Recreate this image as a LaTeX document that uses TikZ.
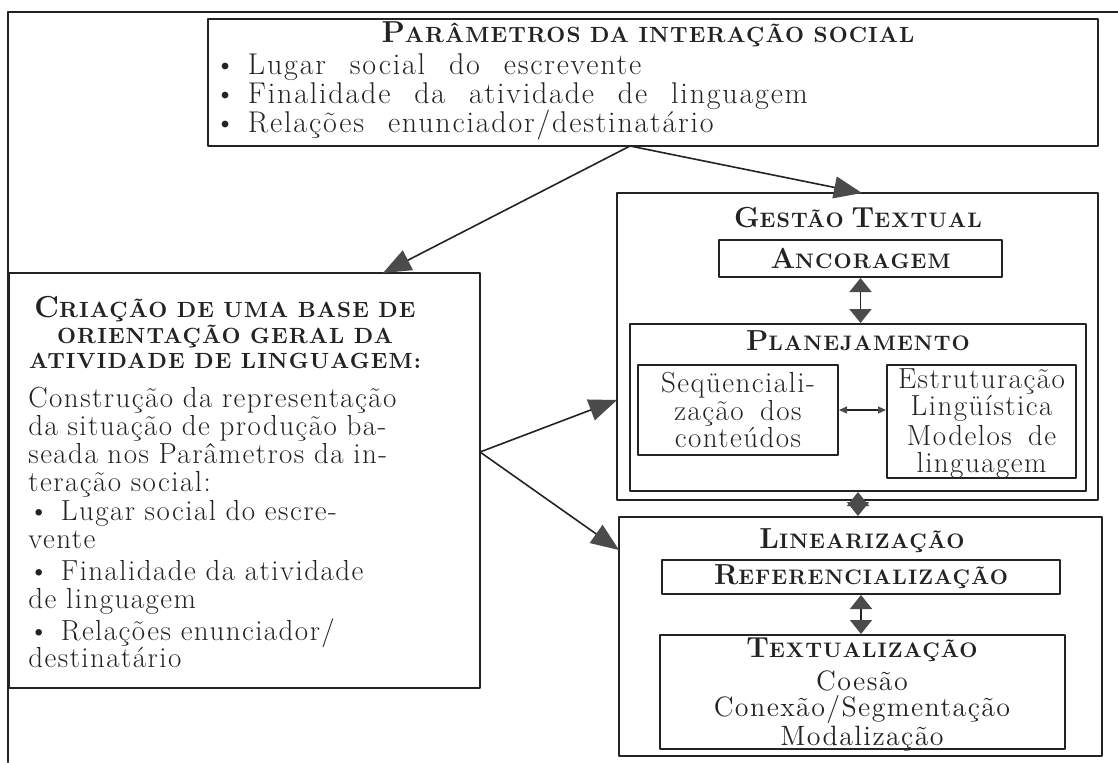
\documentclass[tikz,border=0pt]{standalone}
\usepackage{fontspec}
\setmainfont{Latin Modern Roman}[LetterSpace=5]
\newfontfamily\bodyfont{Latin Modern Roman}[LetterSpace=5,WordSpace=1.6]
\newfontfamily\widefont{Latin Modern Roman}[LetterSpace=6,WordSpace=2.2]
\usetikzlibrary{arrows.meta,fit}

% bold heading with a large initial and reduced capitals
\newcommand{\hsm}[2][10.5]{{\bfseries\fontsize{#1}{12.75}\selectfont #2}}
\newcommand{\hsc}[3][10.5]{{\bfseries\fontsize{\fpeval{1.38*#1}}{12.75}\selectfont #2\hsm[#1]{#3}}}
\newcommand{\bul}{\textbullet\hspace{0.4em}}

\begin{document}
\begin{tikzpicture}[
    >=Latex,
    line cap=round,
    line join=round,
    x=0.5pt,
    y=-0.5pt
]

% =========================================================
% Colors
% =========================================================
\definecolor{inkline}{RGB}{35,35,35}
\definecolor{inkhead}{RGB}{75,75,75}

% =========================================================
% Styles
% =========================================================
\tikzset{
    boxframe/.style={draw=inkline,line width=1pt,inner sep=0pt},
    bodytext/.style={font=\bodyfont\fontsize{14.5}{13.9}\selectfont,inner sep=0pt,text=inkline},
    paramtext/.style={font=\widefont\fontsize{15}{13.25}\selectfont,inner sep=0pt,text=inkline},
    headtext/.style={font=\fontsize{10.5}{12.75}\selectfont,inner sep=0pt,align=center,text=inkline},
    flowarrow/.style={draw=inkline,line width=0.8pt,
        -{Triangle[length=14pt,width=11pt,color=inkhead]}},
    linkarrow/.style={draw=inkline,line width=0.9pt,
        {Triangle[length=7pt,width=11pt,color=inkhead]}-{Triangle[length=7pt,width=11pt,color=inkhead]}},
    minilink/.style={draw=inkline,line width=0.6pt,
        {Triangle[length=4pt,width=3.5pt,color=inkhead]}-{Triangle[length=4pt,width=3.5pt,color=inkhead]}}
}

\useasboundingbox (0,0) rectangle (1118,762);

% outer frame
\draw[inkline,line width=1pt] (8,762) -- (8,12) -- (1118,12);

% =========================================================
% Top: social interaction parameters
% =========================================================
\node[boxframe,fit={(208,19) (1098,146)}] (params) {};
\node[headtext] (paramstitle) at (648,34) {\hsc[11]{P}{ARÂMETROS DA INTERAÇÃO SOCIAL}};
\node[paramtext,anchor=west] (paramsa) at (214,67) {\bul Lugar social do escrevente};
\node[paramtext,anchor=west] (paramsb) at (214,96) {\bul Finalidade da atividade de linguagem};
\node[paramtext,anchor=west] (paramsc) at (214,125) {\bul Relações enunciador/destinatário};

% =========================================================
% Left: general orientation base
% =========================================================
\node[boxframe,fit={(9,273) (480,688)}] (base) {};
\node[headtext] (basetitle) at (225,333)
    {\hsc[11]{C}{RIAÇÃO DE UMA BASE DE}\\ \hsm[11]{ORIENTAÇÃO GERAL DA}\\ \hsm[11]{ATIVIDADE DE LINGUAGEM:}};
\node[bodytext,text width=219.5pt,align=left,anchor=north west] (basebody) at (28,387)
    {\makebox[\linewidth][s]{Construção da representação}\\
     \makebox[\linewidth][s]{da situação de produção ba-}\\
     \makebox[\linewidth][s]{seada nos Parâmetros da in-}\\
     teração social:\\[1pt]
     \bul Lugar social do escre-\\
     vente\\[2pt]
     \bul Finalidade da atividade\\
     de linguagem\\[2pt]
     \bul Relações enunciador/\\
     destinatário};

% =========================================================
% Right: textual management
% =========================================================
\node[boxframe,fit={(617,193) (1098,500)}] (gestao) {};
\node[headtext] (gestaotitle) at (858,218) {\hsc{G}{ESTÃO} \hsc{T}{EXTUAL}};
\node[boxframe,fit={(719,240) (1002,277)}] (anc) {};
\node[headtext] at (anc.center) {\hsc{A}{NCORAGEM}};

\node[boxframe,fit={(630,324) (1086,491)}] (plan) {};
\node[headtext] (plantitle) at (858,341) {\hsc{P}{LANEJAMENTO}};
\node[boxframe,fit={(638,365) (838,455)}] (seq) {};
\node[bodytext,align=center] at (seq.center) {Seqüenciali-\\zação dos\\conteúdos};
\node[boxframe,fit={(887,365) (1076,478)}] (estr) {};
\node[bodytext,font=\bodyfont\fontsize{14.5}{13.4}\selectfont,align=center] at ([yshift=-1pt]estr.center)
    {Estruturação\\Lingüística\\[1.5pt]Modelos de\\linguagem};

% =========================================================
% Right: linearisation
% =========================================================
\node[boxframe,fit={(619,517) (1102,756)}] (lin) {};
\node[headtext] (lintitle) at (862,541) {\hsc{L}{INEARIZAÇÃO}};
\node[boxframe,fit={(662,560) (1060,594)}] (ref) {};
\node[headtext] at (ref.center) {\hsc{R}{EFERENCIALIZAÇÃO}};
\node[boxframe,fit={(660,635) (1065,749)}] (textu) {};
\node[headtext] (textutitle) at (862,650) {\hsc{T}{EXTUALIZAÇÃO}};
\node[bodytext,font=\bodyfont\fontsize{14}{12.9}\selectfont,align=center] (textubody) at (862,711)
    {Coesão\\Conexão/Segmentação\\Modalização};

% =========================================================
% Connectors
% =========================================================
\coordinate (split) at (630,146);
\coordinate (baseentry) at (383,273);
\coordinate (gestaoentry) at (862,193);
\coordinate (baseexit) at (480,452);
\coordinate (gestaoside) at (617,400);
\coordinate (linside) at (619,550);

\draw[flowarrow] (split) -- (baseentry);
\draw[flowarrow] (split) -- (gestaoentry);
\draw[flowarrow] (baseexit) -- (gestaoside);
\draw[flowarrow] (baseexit) -- (linside);

\draw[linkarrow] (anc.south) -- (anc.south |- plan.north);
\draw[linkarrow] (plan.south) -- (plan.south |- lin.north);
\draw[linkarrow] (ref.south) -- (ref.south |- textu.north);
\draw[minilink] (seq.east) -- (seq.east -| estr.west);

\end{tikzpicture}
\end{document}
